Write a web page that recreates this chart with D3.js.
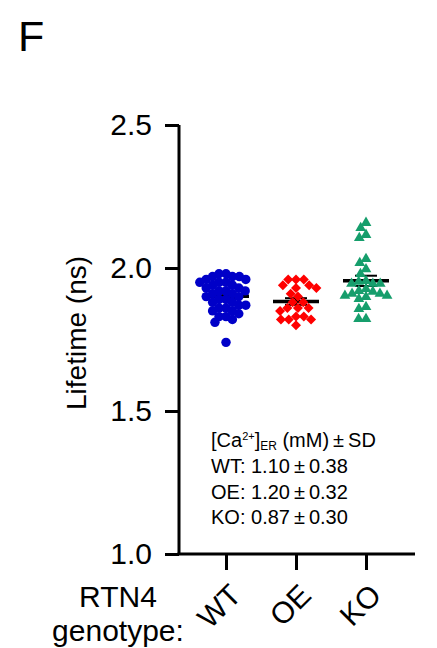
<!DOCTYPE html>
<html>
<head>
<meta charset="utf-8">
<script src="https://cdn.jsdelivr.net/npm/d3@7"></script>
<style>
  html, body { margin: 0; padding: 0; background: #fff; }
  svg { display: block; font-family: "Liberation Sans", Arial, sans-serif; }
</style>
</head>
<body>
<svg id="chart" width="437" height="648"></svg>
<script>
// ---- data ----
const categories = ["WT", "OE", "KO"];
const wtValues = [1.98,1.98,1.97,1.97,1.97,1.96,1.96,1.95,1.95,1.95,1.94,1.94,1.93,1.93,1.92,1.92,1.92,1.91,1.91,1.90,1.90,1.89,1.89,1.88,1.88,1.87,1.87,1.86,1.86,1.85,1.85,1.84,1.83,1.83,1.82,1.81,1.74];
const oeValues = [1.96,1.96,1.96,1.94,1.94,1.93,1.93,1.91,1.90,1.88,1.88,1.86,1.86,1.86,1.85,1.83,1.83,1.82,1.82,1.82,1.80];
const koValues = [2.158,2.140,2.116,2.105,2.032,2.018,1.996,1.979,1.955,1.952,1.945,1.945,1.945,1.927,1.920,1.917,1.910,1.910,1.903,1.903,1.899,1.892,1.864,1.857,1.822,1.822];
const yTicks = [1.0, 1.5, 2.0, 2.5];
const annotationLines = ["WT: 1.10\u2009\u00B1\u20090.38", "OE: 1.20\u2009\u00B1\u20090.32", "KO: 0.87\u2009\u00B1\u20090.30"];
const panelLabel = "F";
const yTitle = "Lifetime (ns)";
const xTitle = ["RTN4", "genotype:"];

const seriesList = [
  { name: "WT", values: wtValues, color: "#0000C8", shape: "circle" },
  { name: "OE", values: oeValues, color: "#FF0000", shape: "diamond" },
  { name: "KO", values: koValues, color: "#169E6C", shape: "triangle" }
];

// ---- layout ----
const svg = d3.select("#chart");
const axisX = 179, axisTop = 125, axisBottom = 554;
const y = d3.scaleLinear().domain([1.0, 2.5]).range([axisBottom, axisTop]);
const x = d3.scalePoint().domain(categories).range([226, 366]);
const xEnd = 415;

// panel label
svg.append("text").attr("x", 18).attr("y", 51).attr("font-size", 43).text(panelLabel);

// y axis
const yAxis = d3.axisLeft(y).tickValues(yTicks).tickFormat(d3.format(".1f")).tickSize(14).tickPadding(13);
const gy = svg.append("g").attr("transform", `translate(${axisX},0)`).call(yAxis);
gy.select(".domain").attr("stroke", "#000").attr("stroke-width", 3).attr("d", `M0,${axisTop}V${axisBottom}`);
gy.selectAll(".tick line").attr("stroke", "#000").attr("stroke-width", 3);
gy.selectAll(".tick text").attr("font-size", 30).attr("fill", "#000").attr("font-family", "Liberation Sans, Arial, sans-serif");

// x axis
const xAxis = d3.axisBottom(x).tickSize(16).tickFormat("");
const gx = svg.append("g").attr("transform", `translate(0,${axisBottom})`).call(xAxis);
gx.select(".domain").attr("stroke", "#000").attr("stroke-width", 3).attr("d", `M${axisX - 1.5},0H${xEnd}`);
gx.selectAll(".tick line").attr("stroke", "#000").attr("stroke-width", 3);

// x category labels rotated
svg.selectAll(".xlab").data(categories).enter().append("text")
  .attr("class", "xlab")
  .attr("transform", d => `translate(${x(d) + 17},${597}) rotate(-45)`)
  .attr("text-anchor", "end")
  .attr("font-size", 30)
  .text(d => d);

// x title
svg.append("text").attr("x", 118).attr("y", 607).attr("text-anchor", "middle").attr("font-size", 30).text(xTitle[0]);
svg.append("text").attr("x", 118).attr("y", 641).attr("text-anchor", "middle").attr("font-size", 30).text(xTitle[1]);

// y title
svg.append("text").attr("transform", `translate(86,333) rotate(-90)`)
  .attr("text-anchor", "middle").attr("font-size", 28).text(yTitle);

// beeswarm dodge
function dodge(vals, r) {
  const ys = vals.map(v => y(v));
  const order = ys.map((_, i) => i).sort((a, b) => ys[a] - ys[b]);
  const xs = new Array(ys.length);
  const placed = [];
  let k = 0;
  for (const i of order) {
    const yy = ys[i];
    const neigh = placed.filter(p => Math.abs(p.y - yy) < 2 * r);
    const cands = [0];
    for (const p of neigh) {
      const dx = Math.sqrt(4 * r * r - (p.y - yy) ** 2);
      cands.push(p.x + dx, p.x - dx);
    }
    const sgn = (k++ % 2) ? 1 : -1;
    cands.sort((a, b) => Math.abs(a) - Math.abs(b) || (a - b) * sgn);
    let chosen = 0;
    for (const c of cands) {
      if (neigh.every(p => (p.x - c) ** 2 + (p.y - yy) ** 2 >= 4 * r * r - 1e-6)) { chosen = c; break; }
    }
    xs[i] = chosen;
    placed.push({ x: chosen, y: yy });
  }
  return xs;
}

const symbolMap = {
  circle: d3.symbol().type(d3.symbolCircle).size(70),
  diamond: d3.symbol().type(d3.symbolSquare).size(50),
  triangle: d3.symbol().type(d3.symbolTriangle).size(50)
};
const dodgeR = { circle: 3.5, diamond: 3.9, triangle: 3.7 };

seriesList.forEach(s => {
  const cx = x(s.name);
  const mean = d3.mean(s.values);
  const sem = d3.deviation(s.values) / Math.sqrt(s.values.length);
  const g = svg.append("g");
  // mean line
  g.append("line").attr("x1", cx - 23).attr("x2", cx + 23).attr("y1", y(mean)).attr("y2", y(mean))
    .attr("stroke", "#000").attr("stroke-width", 3.5);
  // sem bars
  g.append("line").attr("x1", cx).attr("x2", cx).attr("y1", y(mean + sem)).attr("y2", y(mean - sem))
    .attr("stroke", "#000").attr("stroke-width", 2);
  [mean + sem, mean - sem].forEach(v => {
    g.append("line").attr("x1", cx - 11).attr("x2", cx + 11).attr("y1", y(v)).attr("y2", y(v))
      .attr("stroke", "#000").attr("stroke-width", 2);
  });
  const xs = dodge(s.values, dodgeR[s.shape]);
  g.selectAll("path.pt").data(s.values).enter().append("path")
    .attr("class", "pt")
    .attr("d", symbolMap[s.shape])
    .attr("fill", s.color)
    .attr("transform", (d, i) => `translate(${cx + xs[i]},${y(d)})` + (s.shape === "diamond" ? " rotate(45)" : ""));
});

// annotation
const ann = svg.append("text").attr("x", 211).attr("y", 447).attr("font-size", 20);
ann.append("tspan").text("[Ca");
ann.append("tspan").attr("font-size", 11).attr("dy", -7).text("2+");
ann.append("tspan").attr("dy", 7).text("]");
ann.append("tspan").attr("font-size", 12).attr("dy", 3).text("ER");
ann.append("tspan").attr("dy", -3).text(" (mM)\u2009\u00B1\u2009SD");
annotationLines.forEach((t, i) => {
  svg.append("text").attr("x", 211).attr("y", 473 + i * 25.5).attr("font-size", 20).text(t);
});
</script>
</body>
</html>
